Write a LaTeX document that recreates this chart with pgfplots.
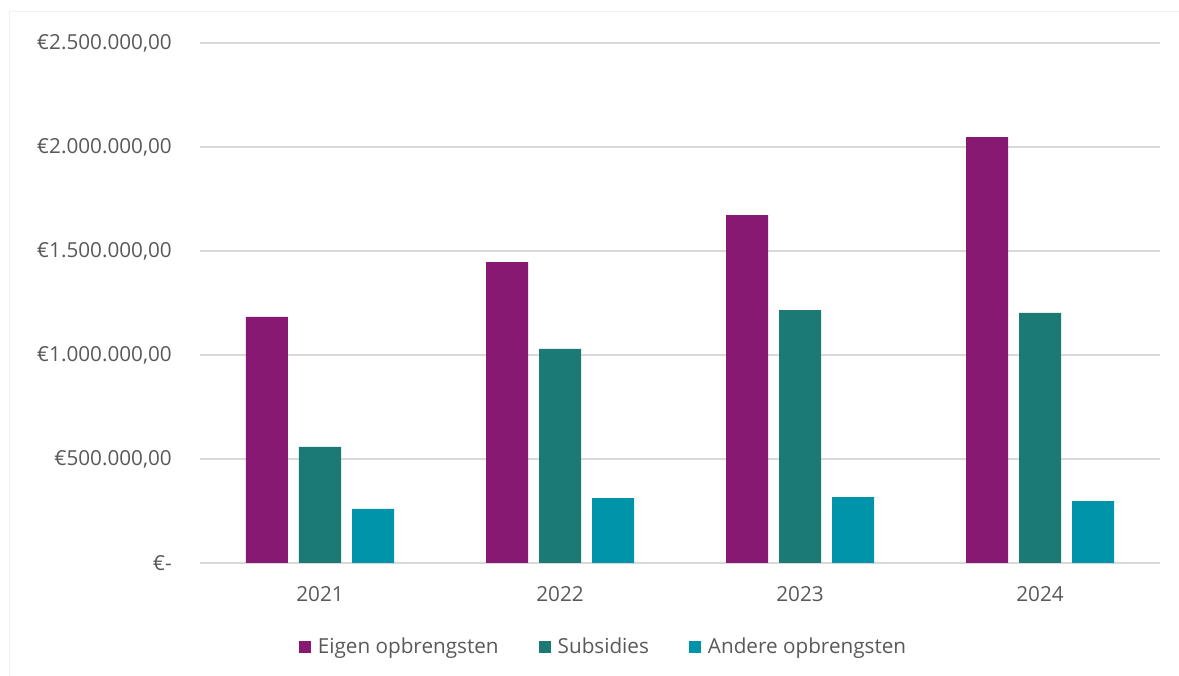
\documentclass[border=0pt]{standalone}
\usepackage{fontspec}
\setmainfont{Open Sans}
\usepackage{pgfplots}
\pgfplotsset{compat=1.18}
\definecolor{cEigen}{HTML}{871973}
\definecolor{cSub}{HTML}{1B7A73}
\definecolor{cAnd}{HTML}{0094AA}
\definecolor{cTxt}{HTML}{595959}
\definecolor{cGrid}{HTML}{D9D9D9}
\begin{document}
\fontsize{20.7}{24}\selectfont
\begin{tikzpicture}[x=1pt,y=1pt]
\draw[color=black!6, line width=1pt] (9,0) -- (9,664) -- (1179,664);
\begin{axis}[
  at={(200pt,113pt)}, anchor=south west,
  width=960pt, height=520pt, scale only axis,
  xmin=-0.5, xmax=3.5, ymin=0, ymax=2500000,
  scaled y ticks=false,
  ybar=11pt, bar width=42pt,
  axis line style={draw=none},
  major tick length=0pt,
  xtick={0,1,2,3}, xticklabels={2021,2022,2023,2024},
  ytick={0,500000,1000000,1500000,2000000,2500000},
  yticklabels={{€-},{€500.000,00},{€1.000.000,00},{€1.500.000,00},{€2.000.000,00},{€2.500.000,00}},
  ymajorgrids, major grid style={color=cGrid, line width=1.6pt},
  tick label style={text=cTxt, font=\fontsize{20.7}{24}\selectfont},
  yticklabel style={anchor=east, inner sep=0pt, xshift=-28pt},
  xticklabel style={anchor=north, inner sep=0pt, yshift=-23pt},
  legend columns=3,
  legend style={at={(rel axis cs:0.4203,-0.1615)}, anchor=center, draw=none, fill=none,
    font=\fontsize{20.7}{24}\selectfont, text=cTxt,
    /tikz/every even column/.append style={column sep=38pt}},
  legend image code/.code={\fill[#1] (0pt,-6pt) rectangle (12pt,6pt); \path (17pt,0pt);},
  legend cell align=left,
]
\addplot[fill=cEigen, draw=none] coordinates {(0,1183000) (1,1447000) (2,1673000) (3,2048000)};
\addplot[fill=cSub, draw=none] coordinates {(0,558000) (1,1029000) (2,1216000) (3,1202000)};
\addplot[fill=cAnd, draw=none] coordinates {(0,260000) (1,312000) (2,317000) (3,298000)};
\legend{Eigen opbrengsten,Subsidies,Andere opbrengsten}
\end{axis}
\pgfresetboundingbox
\useasboundingbox (0,0) rectangle (1179,676);
\end{tikzpicture}
\end{document}
